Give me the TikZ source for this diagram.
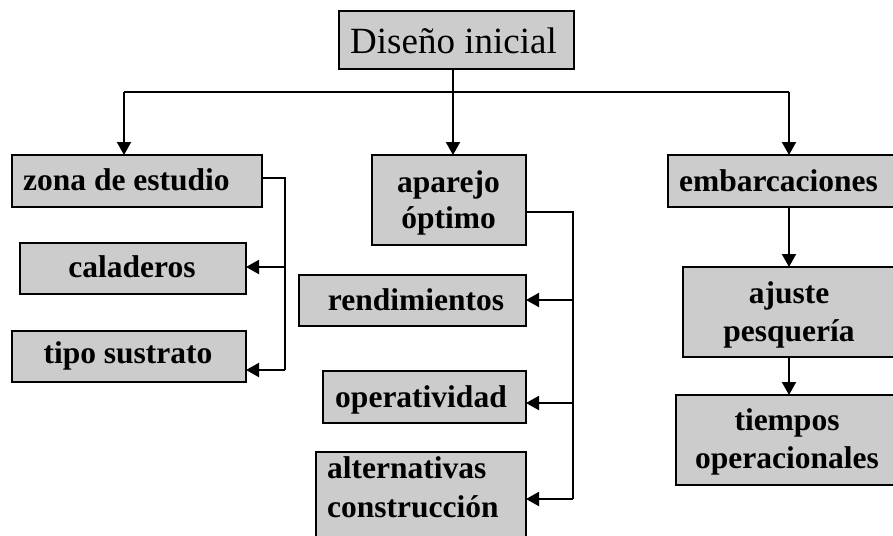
\documentclass[tikz,border=0pt]{standalone}
\usepackage{fontspec}
\setmainfont{Liberation Serif}
\usetikzlibrary{arrows.meta}
\definecolor{boxgray}{RGB}{204,204,204}
\begin{document}
\begin{tikzpicture}[x=1pt,y=-1pt,
  box/.style={draw=black, line width=2pt, fill=boxgray, inner sep=0pt, outer sep=0pt, rectangle},
  txt/.style={font=\bfseries\fontsize{31.5}{36}\selectfont, inner sep=0pt, anchor=base},
  txtl/.style={txt, anchor=base west},
  ln/.style={line width=2pt},
  arr/.style={line width=2pt, -{Triangle[width=14pt,length=13pt]}}]
\useasboundingbox (0,0) rectangle (893,535);
\clip (0,0) rectangle (893,535);
% boxes
\node[box, minimum width=235pt, minimum height=58pt] (top) at (456.5,40) {};
\node[box, minimum width=250pt, minimum height=52pt] (zona) at (137,181) {};
\node[box, minimum width=226pt, minimum height=51pt] (calad) at (133,268.5) {};
\node[box, minimum width=234pt, minimum height=51pt] (tipo) at (129,356.5) {};
\node[box, minimum width=154pt, minimum height=90pt] (apar) at (449,200) {};
\node[box, minimum width=227pt, minimum height=51pt] (rend) at (412.5,300.5) {};
\node[box, minimum width=203pt, minimum height=52pt] (oper) at (424.5,397) {};
\node[box, minimum width=210pt, minimum height=93pt] (alt) at (421,498.5) {};
\node[box, minimum width=232pt, minimum height=52pt] (emb) at (784,181) {};
\node[box, minimum width=217pt, minimum height=90pt] (aju) at (791.5,312) {};
\node[box, minimum width=224pt, minimum height=90pt] (tiem) at (788,440) {};
% texts
\node[txt, font=\fontsize{37}{40}\selectfont] (topt) at (453.5,53) {Diseño inicial};
\node[txtl] (zonat) at (23,190) {zona de estudio};
\node[txt] (caladt) at (132,277) {caladeros};
\node[txt] (tipot) at (128,363) {tipo sustrato};
\node[txt] (apart1) at (448.5,192) {aparejo};
\node[txt] (apart2) at (448.5,228) {óptimo};
\node[txt] (rendt) at (416,310) {rendimientos};
\node[txt] (opert) at (421,407) {operatividad};
\node[txtl] (altt1) at (327,478) {alternativas};
\node[txtl] (altt2) at (327,517) {construcción};
\node[txt] (embt) at (778.5,191) {embarcaciones};
\node[txt] (ajut1) at (789,303) {ajuste};
\node[txt] (ajut2) at (789,341) {pesquería};
\node[txt] (tiemt1) at (787,430) {tiempos};
\node[txt] (tiemt2) at (787,468) {operacionales};
% connectors: top level
\coordinate (bus) at (453,92);
\coordinate (bl) at (124,92);
\coordinate (br) at (789,92);
\draw[ln] (bl) -- (br);
\draw[arr] (top.south -| bus) -- (apar.north -| bus);
\draw[arr] (bl) -- (zona.north -| bl);
\draw[arr] (br) -- (emb.north -| br);
% zona branch
\coordinate (zb) at (285,178);
\coordinate (zc) at (285,267);
\coordinate (zt) at (285,370);
\draw[ln] (zona.east |- zb) -- (zb) -- (zt);
\draw[arr] (zc) -- (calad.east |- zc);
\draw[arr] (zt) -- (tipo.east |- zt);
% aparejo branch
\coordinate (ab) at (573,212);
\coordinate (ar) at (573,300);
\coordinate (ao) at (573,403);
\coordinate (aa) at (573,499);
\draw[ln] (apar.east |- ab) -- (ab) -- (aa);
\draw[arr] (ar) -- (rend.east |- ar);
\draw[arr] (ao) -- (oper.east |- ao);
\draw[arr] (aa) -- (alt.east |- aa);
% embarcaciones chain
\draw[arr] (emb.south -| br) -- (aju.north -| br);
\draw[arr] (aju.south -| br) -- (tiem.north -| br);
\end{tikzpicture}
\end{document}
